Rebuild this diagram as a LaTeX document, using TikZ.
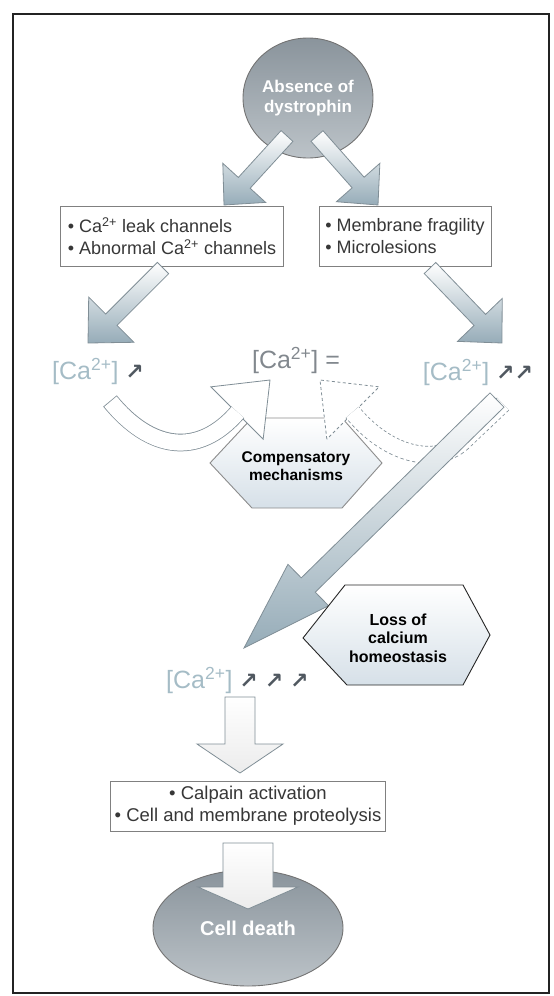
\documentclass[tikz,border=0pt]{standalone}
\usepackage{fontspec}
\setmainfont{Liberation Sans}
\newfontfamily\arrowfont{DejaVu Sans}
\usepackage{tikz}
\usetikzlibrary{calc,shapes.geometric}
\definecolor{FrameGray}{RGB}{35,35,35}
\definecolor{ArrowLine}{RGB}{128,142,150}
\definecolor{ArrowHead}{RGB}{150,172,184}
\definecolor{CaText}{RGB}{165,188,198}
\definecolor{CaEqual}{RGB}{130,136,142}
\definecolor{UpArrow}{RGB}{80,88,96}
\definecolor{EllipseDark}{RGB}{138,148,156}
\definecolor{EllipseLight}{RGB}{188,195,200}
\definecolor{HexFill}{RGB}{214,224,232}
\definecolor{BoxText}{RGB}{55,55,55}

\newcommand{\calev}{[Ca\textsuperscript{2+}]}
\newcommand{\caup}{{\arrowfont\bfseries\fontsize{22}{22}\selectfont\textcolor{UpArrow}{↗}}}

% block arrow: [style]{tail}{tip}{half shaft}{half head}{head length}
\newcommand{\fatarrow}[6][]{%
  \coordinate (fa-b) at ($(#3)!#6!(#2)$);
  \path[fatbody,#1] ($(#2)!#4!90:(#3)$) -- ($(fa-b)!#4!-90:(#2)$)
    -- ($(fa-b)!#5!-90:(#2)$) -- (#3) -- ($(fa-b)!#5!90:(#2)$)
    -- ($(fa-b)!#4!90:(#2)$) -- ($(#2)!#4!-90:(#3)$) -- cycle;}

\tikzset{
  cause/.style={ellipse, draw=black!55, line width=0.9pt, top color=EllipseDark,
    bottom color=EllipseLight, text=white, font=\bfseries\fontsize{17}{20}\selectfont,
    align=center, inner sep=0pt},
  listbox/.style={draw=black!50, line width=0.8pt, fill=white, text=BoxText,
    font=\fontsize{18}{22}\selectfont, align=left, inner sep=4pt, minimum height=60pt},
  calevel/.style={text=CaText, font=\fontsize{25}{28}\selectfont, inner sep=0pt},
  hexbody/.style={draw=black!55, line width=0.9pt, top color=white, bottom color=HexFill},
  mechtext/.style={font=\bfseries\fontsize{15.5}{18}\selectfont, align=center, inner sep=0pt},
  fatbody/.style={draw=ArrowLine, line width=0.8pt, top color=white, bottom color=ArrowHead},
}

\begin{document}
\begin{tikzpicture}[x=1pt,y=-1pt]
  \useasboundingbox (0,0) rectangle (554,996);
  \draw[FrameGray, line width=1.4pt] (13,14) rectangle (549,993);

  % origin of the cascade
  \node[cause, minimum width=130pt, minimum height=120pt] (dys) at (308,98) {Absence of\\dystrophin};
  \node[listbox, minimum width=223pt] (leak) at (172,236) {• Ca\textsuperscript{2+} leak channels\\• Abnormal Ca\textsuperscript{2+} channels};
  \node[listbox, minimum width=172pt] (frag) at (405,236) {• Membrane fragility\\• Microlesions};

  \coordinate (a1t) at (287,136); \coordinate (a1h) at (224,205);
  \coordinate (a2t) at (317,136); \coordinate (a2h) at (378,205);
  \fatarrow{a1t}{a1h}{8pt}{29pt}{30pt}
  \fatarrow{a2t}{a2h}{8pt}{29pt}{30pt}

  % calcium levels
  \node[calevel] (calow) at (98,371) {\calev\ \caup};
  \node[calevel, text=CaEqual] (camid) at (296,360) {\calev\ =};
  \node[calevel] (cahigh) at (478,372) {\calev\ \caup\caup};

  \coordinate (a3t) at (163,268); \coordinate (a3h) at (88,343);
  \coordinate (a4t) at (430,268); \coordinate (a4h) at (502,343);
  \fatarrow{a3t}{a3h}{8pt}{32pt}{33pt}
  \fatarrow{a4t}{a4h}{8pt}{31pt}{32pt}

  % compensatory mechanisms
  \path[hexbody, draw=black!45] (210,463) -- (252,418) -- (342,418) -- (382,463) -- (342,508) -- (252,508) -- cycle;
  \node[mechtext] (comp) at (296,466) {Compensatory\\mechanisms};

  % dashed branch back to balance
  \coordinate (d-tail) at (503,404); \coordinate (d-base) at (353,413); \coordinate (d-tip) at (320,380);
  \path[draw=ArrowLine, line width=0.8pt, dash pattern=on 3pt off 2.5pt, fill=white]
    ($(d-base)!37pt!90:(d-tip)$) -- (d-tip) -- ($(d-base)!37pt!-90:(d-tip)$) -- cycle;
  \draw[ArrowLine, line width=17.6pt, dash pattern=on 3pt off 2.5pt, shorten >=-1pt]
    (d-tail) -- (465,440) .. controls (440,466) and (390,458) .. (d-base);
  \draw[white, line width=16pt, shorten >=-1pt]
    (d-tail) -- (465,440) .. controls (440,466) and (390,458) .. (d-base);

  % solid branch back to balance
  \coordinate (s-tail) at (110,401); \coordinate (s-base) at (237,413); \coordinate (s-tip) at (270,380);
  \path[draw=ArrowLine, line width=0.8pt, fill=white]
    ($(s-base)!37pt!90:(s-tip)$) -- (s-tip) -- ($(s-base)!37pt!-90:(s-tip)$) -- cycle;
  \draw[ArrowLine, line width=17.6pt, shorten >=-1pt]
    (s-tail) .. controls (150,450) and (198,458) .. (s-base);
  \draw[white, line width=16pt, shorten >=-1pt, shorten <=0.8pt]
    (s-tail) .. controls (150,450) and (198,458) .. (s-base);

  % loss of homeostasis
  \coordinate (b-tail) at (497,400); \coordinate (b-tip) at (244,648);
  \fatarrow{b-tail}{b-tip}{10pt}{29pt}{90pt}
  \path[hexbody, draw=black!85] (303,638) -- (345,585) -- (463,585) -- (490,635) -- (463,685) -- (347,685) -- cycle;
  \node[mechtext, font=\bfseries\fontsize{16}{18.5}\selectfont] (loss) at (398,638) {Loss of\\calcium\\homeostasis};
  \node[calevel, anchor=west] (cahigher) at (166,680) {\calev\ \caup\ \caup\ \caup};

  % proteolysis and death
  \node[listbox, align=center, minimum width=270pt, minimum height=50pt, font=\fontsize{18.5}{22}\selectfont] (calp) at (248,806) {• Calpain activation\\• Cell and membrane proteolysis};
  \coordinate (a5t) at (240,697); \coordinate (a5h) at (240,773);
  \fatarrow[bottom color=gray!15]{a5t}{a5h}{15pt}{43pt}{29pt}

  \node[cause, minimum width=190pt, minimum height=116pt, font=\bfseries\fontsize{20}{22}\selectfont] (death) at (248,928) {Cell death};
  \coordinate (a6t) at (248,843); \coordinate (a6h) at (248,909);
  \fatarrow[bottom color=gray!15]{a6t}{a6h}{25pt}{50pt}{22pt}
\end{tikzpicture}
\end{document}
